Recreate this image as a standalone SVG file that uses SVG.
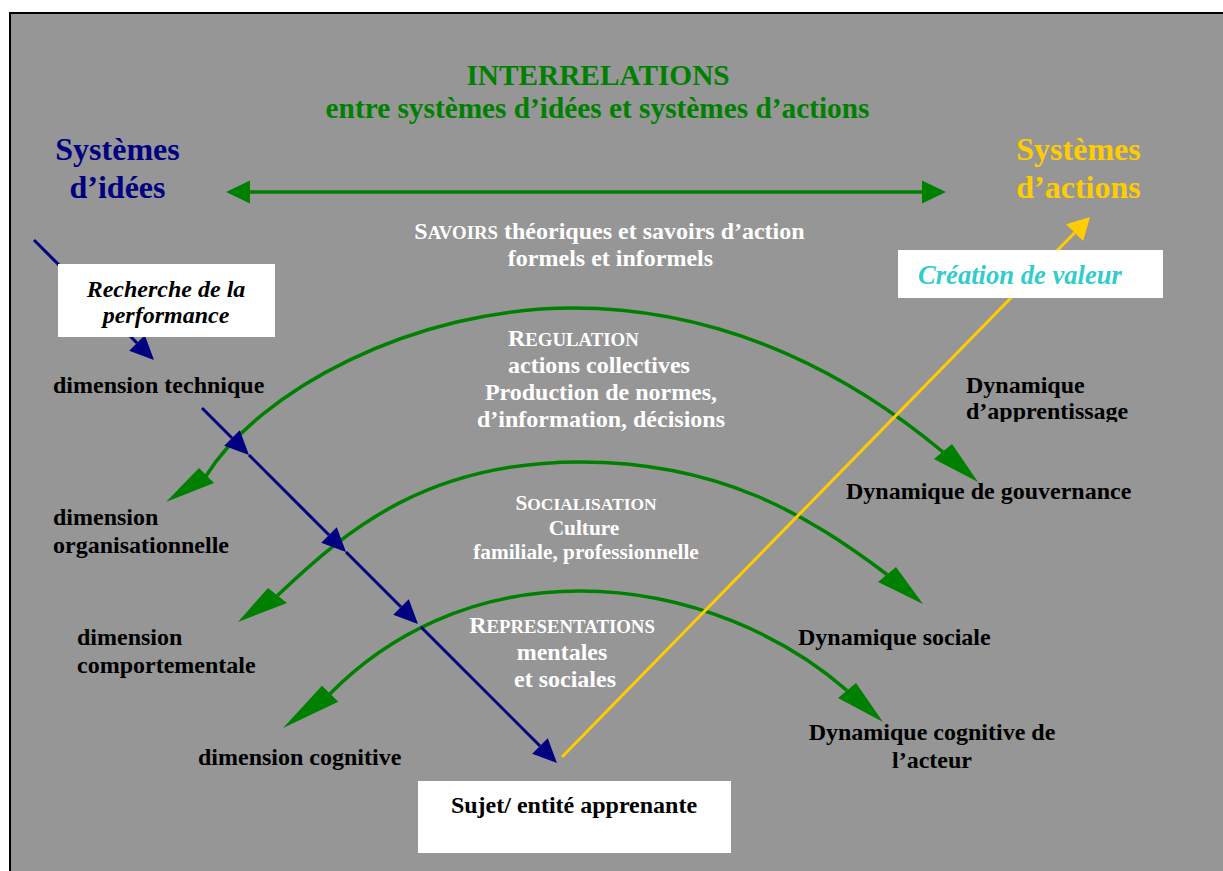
<svg xmlns="http://www.w3.org/2000/svg" width="1223" height="871" viewBox="0 0 1223 871">
<style>
text{font-family:"Liberation Serif","Times New Roman",serif;font-weight:bold}
.t24{font-size:24px}
.blk{fill:#000}
.wht{fill:#fff}
.grn{fill:#008000}
.mid{text-anchor:middle}
.sc{font-size:18.8px}
.box{fill:#fff;stroke:none}
.arc{fill:none;stroke:#008000;stroke-width:3.5}
.ga{fill:#008000}
.bl{fill:none;stroke:#000080;stroke-width:3;marker-end:url(#bArr)}
</style>
<defs>
<marker id="gArr" markerUnits="userSpaceOnUse" markerWidth="24" markerHeight="24" refX="0" refY="11.5" orient="auto-start-reverse" overflow="visible"><path d="M0,0 L24,11.5 L0,23 z" fill="#008000"/></marker>
<marker id="bArr" markerUnits="userSpaceOnUse" markerWidth="24" markerHeight="22" refX="0" refY="11" orient="auto" overflow="visible"><path d="M0,0 L24,11 L0,22 z" fill="#000080"/></marker>
<marker id="yArr" markerUnits="userSpaceOnUse" markerWidth="22" markerHeight="24" refX="0" refY="12" orient="auto" overflow="visible"><path d="M0,0 L22,12 L0,24 z" fill="#ffcc00"/></marker>
<clipPath id="clipApp"><rect x="900" y="360" width="300" height="62"/></clipPath>
</defs>
<rect x="0" y="0" width="1223" height="871" fill="#fff"/>
<rect x="10" y="13" width="1225" height="870" fill="#969696" stroke="#000" stroke-width="2"/>

<g id="connectors">
<path id="arc-regulation" class="arc" d="M206,476 C259,391 413,308 573,308 C733,308 858.5,381.6 943,452"/>
<polygon class="ga" points="166,502 199,468 214,483"/>
<polygon class="ga" points="978,482 934,459 952,444"/>
<path id="arc-socialisation" class="arc" d="M277.5,595.5 C349.5,526.5 430,462 580,462 C720,462 807,514.5 887,574.5"/>
<polygon class="ga" points="238,622 268,588 287,603"/>
<polygon class="ga" points="923,604 878,582 896,567"/>
<path id="arc-representations" class="arc" d="M330,693.7 C386,636.9 470,591 580,591 C690,591 787,637.7 847,690.5"/>
<polygon class="ga" points="283,728 322,685.7 338.3,701.7"/>
<polygon class="ga" points="883,722 838,698 856,683"/>
<line id="savoirs-link" x1="250" y1="192" x2="922" y2="192" stroke="#008000" stroke-width="3.5" marker-start="url(#gArr)" marker-end="url(#gArr)"/>
<line id="valeur-link" x1="562" y1="757" x2="1074.6" y2="232.7" stroke="#ffcc00" stroke-width="3" marker-end="url(#yArr)"/>
<line class="bl" x1="34" y1="240" x2="137" y2="343"/>
<line class="bl" x1="202" y1="408" x2="232" y2="438"/>
<line class="bl" x1="249" y1="455" x2="329" y2="535"/>
<line class="bl" x1="346" y1="552" x2="401" y2="607"/>
<line class="bl" x1="421" y1="627" x2="540" y2="746"/>
</g>

<g id="title">
<text class="grn mid" x="598" y="85" font-size="29.3">INTERRELATIONS</text>
<text class="grn mid" x="597.5" y="118" font-size="29.3">entre systèmes d’idées et systèmes d’actions</text>
</g>
<g id="systemes-idees">
<text class="mid" x="117.5" y="160" font-size="32" fill="#000080">Systèmes</text>
<text class="mid" x="117.5" y="198" font-size="32" fill="#000080">d’idées</text>
</g>
<g id="systemes-actions">
<text class="mid" x="1078.5" y="160" font-size="32" fill="#ffcc00">Systèmes</text>
<text class="mid" x="1078.5" y="198" font-size="32" fill="#ffcc00">d’actions</text>
</g>
<g id="savoirs">
<text class="wht mid t24" x="609.5" y="239">S<tspan class="sc">AVOIRS</tspan> théoriques et savoirs d’action</text>
<text class="wht mid t24" x="610.5" y="266">formels et informels</text>
</g>
<g id="regulation">
<text class="wht t24" x="508" y="346">R<tspan class="sc">EGULATION</tspan></text>
<text class="wht t24" x="508" y="373">actions collectives</text>
<text class="wht mid t24" x="601" y="400">Production de normes,</text>
<text class="wht mid t24" x="601" y="427">d’information, décisions</text>
</g>
<g id="socialisation">
<text class="wht mid" x="586" y="510" font-size="21.3">S<tspan font-size="17.4">OCIALISATION</tspan></text>
<text class="wht mid" x="584" y="535" font-size="21.3">Culture</text>
<text class="wht mid" x="586" y="559" font-size="21.3">familiale, professionnelle</text>
</g>
<g id="representations">
<text class="wht mid t24" x="562" y="633">R<tspan class="sc">EPRESENTATIONS</tspan></text>
<text class="wht mid t24" x="562" y="660">mentales</text>
<text class="wht mid t24" x="565" y="687">et sociales</text>
</g>
<g id="recherche-performance">
<rect class="box" x="58" y="264" width="217" height="73"/>
<text class="blk mid t24" x="166" y="297" font-style="italic">Recherche de la</text>
<text class="blk mid t24" x="166" y="323" font-style="italic">performance</text>
</g>
<g id="creation-valeur">
<rect class="box" x="898" y="250" width="265" height="48"/>
<text x="918" y="284" font-size="26.6" font-style="italic" fill="#33cccc">Création de valeur</text>
</g>
<g id="sujet">
<rect class="box" x="418" y="781" width="313" height="72"/>
<text class="blk mid t24" x="574" y="813">Sujet/ entité apprenante</text>
</g>
<g id="dim-technique"><text class="blk t24" x="53" y="393">dimension technique</text></g>
<g id="dim-organisationnelle">
<text class="blk t24" x="53" y="525">dimension</text>
<text class="blk t24" x="53" y="553">organisationnelle</text>
</g>
<g id="dim-comportementale">
<text class="blk t24" x="77" y="645">dimension</text>
<text class="blk t24" x="77" y="673">comportementale</text>
</g>
<g id="dim-cognitive"><text class="blk t24" x="198" y="765">dimension cognitive</text></g>
<g id="dyn-apprentissage" clip-path="url(#clipApp)">
<text class="blk t24" x="966" y="393">Dynamique</text>
<text class="blk t24" x="966" y="419">d’apprentissage</text>
</g>
<g id="dyn-gouvernance"><text class="blk t24" x="846" y="499">Dynamique de gouvernance</text></g>
<g id="dyn-sociale"><text class="blk t24" x="798" y="645">Dynamique sociale</text></g>
<g id="dyn-cognitive">
<text class="blk mid t24" x="932" y="740">Dynamique cognitive de</text>
<text class="blk mid t24" x="932" y="768">l’acteur</text>
</g>
</svg>
